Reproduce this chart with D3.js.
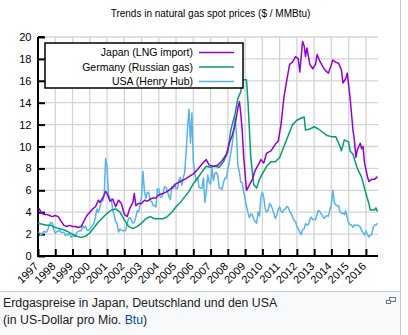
<!DOCTYPE html>
<html><head><meta charset="utf-8">
<script src="https://cdn.jsdelivr.net/npm/d3@7"></script>
<style>
html,body{margin:0;padding:0;background:#fff;}
svg{display:block;font-family:"Liberation Sans",Arial,sans-serif;}
</style></head>
<body>
<svg id="c" width="408" height="335"></svg>
<script>
// ---- data ----
const title = "Trends in natural gas spot prices ($ / MMBtu)";
const seriesNames = ["Japan (LNG import)", "Germany (Russian gas)", "USA (Henry Hub)"];
const seriesColors = ["#9400d3", "#009e73", "#56b4e9"];
const yearTicks = d3.range(1997, 2017);
const yTicks = [0,2,4,6,8,10,12,14,16,18,20];
const captionLine1 = "Erdgaspreise in Japan, Deutschland und den USA";
const captionLine2a = "(in US-Dollar pro Mio. ";
const captionLink = "Btu";
const captionLine2b = ")";

// USA Henry Hub, monthly from Jan 1997
const usaStart = 1997;
const usaValues = [
 2.2,2.15,1.89,2.03,2.25,2.20,2.19,2.49,2.88,3.07,3.01,2.35,
 2.09,2.23,2.24,2.43,2.14,2.17,2.17,1.85,2.02,1.91,2.12,1.72,
 1.85,1.77,1.79,2.15,2.26,2.30,2.31,2.80,2.55,2.73,2.37,2.36,
 2.42,2.66,2.79,3.04,3.59,4.29,3.99,4.43,5.06,5.02,5.52,8.90,
 8.17,5.61,5.23,5.19,4.19,3.72,3.11,2.97,2.19,2.46,2.34,2.30,
 2.32,2.32,3.03,3.43,3.50,3.26,2.99,3.09,3.55,4.13,4.04,4.74,
 5.43,7.71,5.93,5.26,5.81,5.82,5.03,4.99,4.62,4.63,4.47,6.13,
 6.14,5.37,5.39,5.71,6.33,6.27,5.93,5.41,5.15,6.35,6.17,6.58,
 6.15,6.14,6.96,7.16,6.47,7.18,7.63,9.53,11.75,13.42,10.30,13.05,
 8.69,7.54,6.89,7.16,6.25,6.21,6.17,7.14,4.90,5.85,7.41,6.73,
 6.55,8.00,6.89,7.55,7.64,7.35,6.22,6.22,6.08,6.74,7.10,7.11,
 7.99,8.54,9.41,10.18,11.27,12.69,11.09,8.26,7.67,6.74,6.68,5.82,
 5.24,4.52,3.96,3.50,3.83,3.80,3.38,3.14,2.99,4.01,3.66,5.35,
 5.83,5.32,4.29,4.03,4.14,4.80,4.63,4.32,3.89,3.43,3.71,4.25,
 4.49,4.09,3.97,4.24,4.31,4.54,4.42,4.06,3.90,3.57,3.24,3.17,
 2.67,2.50,2.17,1.95,2.43,2.46,2.95,2.84,2.85,3.32,3.54,3.34,
 3.33,3.33,3.81,4.17,4.04,3.83,3.62,3.43,3.62,3.68,3.64,4.24,
 4.71,6.00,4.90,4.66,4.58,4.59,4.05,3.91,3.92,3.78,4.12,3.48,
 2.99,2.87,2.83,2.61,2.85,2.78,2.84,2.77,2.66,2.34,2.09,1.93,
 2.28,1.99,1.73,1.92,1.92,2.59,2.82,2.82,2.99
];

// Japan LNG import: [decimal year, $/MMBtu]
const japanData = [
 [1997.0,4.4],[1997.08,4.3],[1997.17,4.0],[1997.33,3.8],[1997.5,3.8],[1997.67,3.7],[1997.83,3.6],
 [1998.0,3.7],[1998.17,3.6],[1998.33,3.2],[1998.5,2.8],[1998.67,2.7],[1998.83,2.8],
 [1999.0,2.7],[1999.17,2.7],[1999.33,2.6],[1999.5,2.7],[1999.67,3.2],[1999.83,3.7],
 [2000.0,4.0],[2000.17,4.3],[2000.33,4.5],[2000.5,5.1],[2000.58,4.9],[2000.75,5.3],[2000.92,5.9],
 [2001.0,5.7],[2001.17,5.0],[2001.33,5.2],[2001.5,4.5],[2001.67,5.1],[2001.83,4.8],
 [2002.0,3.8],[2002.17,3.6],[2002.33,4.4],[2002.5,4.9],[2002.58,5.7],[2002.67,4.6],[2002.83,4.8],
 [2003.0,4.8],[2003.17,5.1],[2003.33,5.0],[2003.5,5.2],[2003.67,5.3],[2003.83,5.3],
 [2004.0,5.6],[2004.25,5.7],[2004.5,5.9],[2004.75,6.2],
 [2005.0,6.6],[2005.25,6.8],[2005.5,7.0],[2005.75,7.25],
 [2006.0,7.5],[2006.25,7.9],[2006.5,8.4],[2006.75,8.8],[2006.92,8.3],
 [2007.17,8.2],[2007.42,8.3],[2007.67,8.7],[2007.92,9.3],
 [2008.08,10.3],[2008.25,11.0],[2008.42,12.0],[2008.58,13.5],[2008.67,14.1],[2008.75,13.0],[2008.83,11.5],[2008.92,9.0],
 [2009.08,6.0],[2009.25,6.5],[2009.42,7.0],[2009.58,7.8],[2009.75,8.3],[2009.92,8.8],
 [2010.08,8.5],[2010.25,9.4],[2010.5,9.6],[2010.75,10.2],[2010.92,10.5],
 [2011.08,12.0],[2011.25,14.5],[2011.42,16.1],[2011.58,17.5],[2011.75,17.7],[2011.92,18.2],
 [2012.08,18.0],[2012.17,16.8],[2012.33,19.6],[2012.42,19.2],[2012.5,18.2],[2012.58,19.0],[2012.75,17.5],[2012.92,17.1],
 [2013.08,17.5],[2013.17,18.4],[2013.33,17.8],[2013.5,17.3],[2013.67,16.9],[2013.83,16.7],
 [2014.0,17.5],[2014.08,17.9],[2014.25,17.7],[2014.42,17.6],[2014.58,17.0],[2014.67,15.8],[2014.83,16.2],[2014.92,16.7],
 [2015.08,14.5],[2015.25,11.5],[2015.33,10.6],[2015.42,9.0],[2015.5,9.7],[2015.67,10.3],[2015.75,9.8],[2015.83,10.0],[2015.92,8.5],
 [2016.0,7.9],[2016.08,7.3],[2016.17,6.8],[2016.33,7.0],[2016.5,7.0],[2016.67,7.25]
];

// Germany (Russian gas): [decimal year, $/MMBtu]
const germanyData = [
 [1997.0,3.0],[1997.25,2.9],[1997.5,2.8],[1997.75,2.8],
 [1998.0,2.6],[1998.25,2.5],[1998.5,2.4],[1998.75,2.2],
 [1999.0,2.0],[1999.25,1.8],[1999.5,1.7],[1999.75,1.8],
 [2000.0,2.1],[2000.25,2.6],[2000.5,3.1],[2000.75,3.5],
 [2001.0,3.9],[2001.25,4.2],[2001.5,4.3],[2001.75,4.0],
 [2002.0,3.3],[2002.25,2.7],[2002.5,2.5],[2002.75,2.7],
 [2003.0,3.0],[2003.25,3.4],[2003.5,3.6],[2003.75,3.4],
 [2004.0,3.4],[2004.25,3.4],[2004.5,3.6],[2004.75,4.0],
 [2005.0,4.5],[2005.25,4.9],[2005.5,5.4],[2005.75,5.9],
 [2006.0,6.6],[2006.25,7.1],[2006.5,7.7],[2006.75,8.2],
 [2007.0,8.1],[2007.25,8.2],[2007.5,8.1],[2007.75,8.6],
 [2008.0,9.5],[2008.17,11.5],[2008.42,13.0],[2008.58,14.4],[2008.75,15.0],[2008.83,16.1],
 [2009.08,16.1],[2009.17,14.0],[2009.33,9.0],[2009.5,6.5],[2009.67,6.2],[2009.83,7.0],
 [2010.0,7.5],[2010.25,8.2],[2010.5,8.6],[2010.75,8.6],
 [2011.0,9.0],[2011.25,10.0],[2011.5,11.0],[2011.75,12.0],
 [2012.0,12.4],[2012.25,12.6],[2012.42,12.7],[2012.5,11.5],[2012.75,11.6],
 [2013.0,11.8],[2013.25,11.6],[2013.5,11.3],[2013.75,11.0],
 [2014.0,10.9],[2014.25,10.9],[2014.5,10.0],[2014.58,9.6],[2014.75,10.6],
 [2015.0,10.4],[2015.08,9.6],[2015.25,9.3],[2015.5,8.0],[2015.75,7.2],
 [2016.0,5.7],[2016.17,4.8],[2016.25,4.2],[2016.5,4.2],[2016.58,4.4],[2016.67,4.05]
];

// ---- drawing ----
const svg = d3.select("#c");
const W = 408, H = 335;

svg.append("rect").attr("x",0).attr("y",0).attr("width",W).attr("height",H).attr("fill","#fff");
svg.append("rect").attr("x",0).attr("y",291.5).attr("width",400).attr("height",H-291.5).attr("fill","#f8f9fa");
svg.append("line").attr("x1",0).attr("x2",400.5).attr("y1",291.5).attr("y2",291.5).attr("stroke","#c8ccd1");
svg.append("line").attr("x1",400.5).attr("x2",400.5).attr("y1",0).attr("y2",H).attr("stroke","#c8ccd1");

svg.append("text").attr("x",3).attr("y",306.5).attr("font-size","12.3px").attr("fill","#202122").text(captionLine1);
const cap2 = svg.append("text").attr("x",3).attr("y",324).attr("font-size","12.3px").attr("fill","#202122");
cap2.append("tspan").text(captionLine2a);
cap2.append("tspan").attr("fill","#0645ad").text(captionLink);
cap2.append("tspan").text(captionLine2b);
const mg = svg.append("g").attr("fill","none").attr("stroke","#72777d").attr("stroke-width",1);
mg.append("rect").attr("x",389.5).attr("y",297.5).attr("width",6).attr("height",4);
mg.append("rect").attr("x",386.5).attr("y",300.5).attr("width",4).attr("height",3).attr("fill","#f8f9fa");

const x = d3.scaleLinear().domain([1997, 2016.7]).range([38, 378]);
const y = d3.scaleLinear().domain([0, 20]).range([256, 37]);

svg.append("text").attr("x",210.5).attr("y",17).attr("text-anchor","middle")
  .attr("font-size","10px").attr("fill","#000").text(title);

const grid = svg.append("g").attr("stroke","#d4d4d4").attr("stroke-width",1.3);
yTicks.filter(v=>v>0).forEach(v=>{
  grid.append("line").attr("x1",x(1997)).attr("x2",x(2016.7)).attr("y1",y(v)).attr("y2",y(v));
});
yearTicks.filter(v=>v>1997).forEach(v=>{
  grid.append("line").attr("x1",x(v)).attr("x2",x(v)).attr("y1",y(0)).attr("y2",y(20));
});

const yAxis = d3.axisLeft(y).tickValues(yTicks).tickSize(-7).tickPadding(6.5).tickFormat(d3.format("d"));
const yg = svg.append("g").attr("transform",`translate(${x(1997)},0)`).call(yAxis);
yg.select(".domain").remove();
yg.selectAll(".tick line").attr("stroke","#000").attr("stroke-width",2);
yg.selectAll(".tick text").attr("font-size","11px").attr("fill","#000").attr("font-family","'Liberation Sans',Arial,sans-serif");

const xAxis = d3.axisBottom(x).tickValues(yearTicks).tickSize(-7).tickFormat("");
const xg = svg.append("g").attr("transform",`translate(0,${y(0)})`).call(xAxis);
xg.select(".domain").remove();
xg.selectAll(".tick line").attr("stroke","#000").attr("stroke-width",2);
xg.selectAll(".tick text").remove();

const xl = svg.append("g").attr("font-size","11px").attr("fill","#000");
yearTicks.forEach(v=>{
  const px = x(v) + 1, py = y(0) + 11;
  xl.append("g").attr("transform",`translate(${px},${py}) rotate(-45)`)
    .append("text").attr("x",0).attr("y",0).attr("text-anchor","end")
    .text(String(v));
});

svg.append("line").attr("x1",x(1997)).attr("x2",x(1997)).attr("y1",y(20)).attr("y2",y(0)+1).attr("stroke","#000").attr("stroke-width",2);
svg.append("line").attr("x1",x(1997)-1).attr("x2",x(2016.7)).attr("y1",y(0)).attr("y2",y(0)).attr("stroke","#000").attr("stroke-width",2);
svg.append("line").attr("x1",x(1997)).attr("x2",x(1997)+6).attr("y1",y(20)).attr("y2",y(20)).attr("stroke","#000").attr("stroke-width",2);

const line = d3.line().x(d=>x(d[0])).y(d=>y(d[1]));
const usaData = usaValues.map((v,i)=>[usaStart + i/12, v]);
const allSeries = [japanData, germanyData, usaData];
[2,1,0].forEach(i=>{
  svg.append("path").datum(allSeries[i]).attr("d",line).attr("fill","none")
    .attr("stroke",seriesColors[i]).attr("stroke-width",1.5).attr("stroke-linejoin","round");
});

const lg = svg.append("g");
lg.append("rect").attr("x",45).attr("y",43).attr("width",198).attr("height",45)
  .attr("fill","#fff").attr("stroke","#000").attr("stroke-width",1.5);
const rowY = [52.5, 67, 81.5];
seriesNames.forEach((n,i)=>{
  lg.append("text").attr("x",193).attr("y",rowY[i]).attr("dy","0.35em").attr("text-anchor","end")
    .attr("font-size","10.5px").attr("fill","#000").text(n);
  lg.append("line").attr("x1",199).attr("x2",234).attr("y1",rowY[i]).attr("y2",rowY[i])
    .attr("stroke",seriesColors[i]).attr("stroke-width",1.5);
});
</script>
</body></html>
